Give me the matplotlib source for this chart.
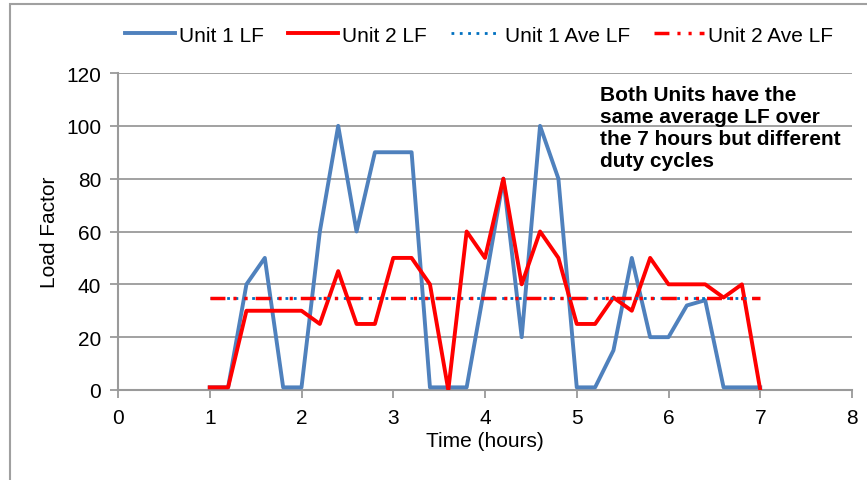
import matplotlib
matplotlib.use("Agg")
import matplotlib.pyplot as plt
from matplotlib.patches import Rectangle

plt.rcParams['font.family'] = ['Liberation Sans', 'DejaVu Sans']

time_hours = [1.0, 1.2, 1.4, 1.6, 1.8, 2.0, 2.2, 2.4, 2.6, 2.8, 3.0, 3.2, 3.4, 3.6, 3.8,
              4.0, 4.2, 4.4, 4.6, 4.8, 5.0, 5.2, 5.4, 5.6, 5.8, 6.0, 6.2, 6.4, 6.6, 6.8, 7.0]
unit1_lf = [1, 1, 40, 50, 1, 1, 60, 100, 60, 90, 90, 90, 1, 1, 1,
            40, 80, 20, 100, 80, 1, 1, 15, 50, 20, 20, 32, 34, 1, 1, 1]
unit2_lf = [1, 1, 30, 30, 30, 30, 25, 45, 25, 25, 50, 50, 40, 0, 60,
            50, 80, 40, 60, 50, 25, 25, 35, 30, 50, 40, 40, 40, 35, 40, 0]
unit1_ave = [35] * len(time_hours)
unit2_ave = [35] * len(time_hours)
x_ticks = [0, 1, 2, 3, 4, 5, 6, 7, 8]
y_ticks = [0, 20, 40, 60, 80, 100, 120]
note = "Both Units have the\nsame average LF over\nthe 7 hours but different\nduty cycles"

W, H = 867, 481
fig = plt.figure(figsize=(W / 100, H / 100), dpi=100)
ax = fig.add_axes([118 / W, 1 - 391 / H, (852 - 118) / W, (391 - 74) / H])

gray = '#9A9A9A'
ax.plot(time_hours, unit1_lf, color='#4F81BD', lw=2.8, label='Unit 1 LF', zorder=3)
ax.plot(time_hours, unit2_lf, color='#FF0000', lw=2.8, label='Unit 2 LF', zorder=4)
ax.plot(time_hours, unit1_ave, color='#0070C0', lw=2.0, linestyle=(0, (1, 2)),
        label='Unit 1 Ave LF', zorder=5)
ax.plot(time_hours, unit2_ave, color='#FF0000', lw=2.5,
        linestyle=(0, (4.3, 2.3, 0.9, 2.3, 0.9, 2.3)), label='Unit 2 Ave LF', zorder=6)

ax.set_xlim(0, 8)
ax.set_ylim(0, 120)
ax.set_xticks(x_ticks)
ax.set_yticks(y_ticks)
ax.tick_params(axis='both', labelsize=15, color=gray, width=1.3, length=6,
               direction='out')
ax.tick_params(axis='y', pad=6)
ax.tick_params(axis='x', pad=7)
ax.grid(axis='y', color=gray, lw=1.3)
ax.set_axisbelow(True)
for s in ['top', 'right']:
    ax.spines[s].set_visible(False)
for s in ['left', 'bottom']:
    ax.spines[s].set_color(gray)
    ax.spines[s].set_linewidth(1.5)

ax.set_xlabel('Time (hours)', fontsize=15, labelpad=3)
ax.set_ylabel('Load Factor', fontsize=15, labelpad=5)

ax.text(600 / W, 1 - 86 / H, note, transform=fig.transFigure, fontsize=15,
        fontweight='bold', va='top', ha='left', linespacing=1.2)

fig.legend(loc='center', bbox_to_anchor=(479 / W, 1 - 36 / H), ncol=4, frameon=False,
           fontsize=15, handlelength=2.4, handletextpad=0.2, columnspacing=1.15)

fig.patches.append(Rectangle((10 / W, -0.2), 2.0, 1.2 - 5 / H, transform=fig.transFigure,
                             fill=False, edgecolor='#A0A0A0', lw=1.5, figure=fig))

fig.savefig('out.png', dpi=100)
